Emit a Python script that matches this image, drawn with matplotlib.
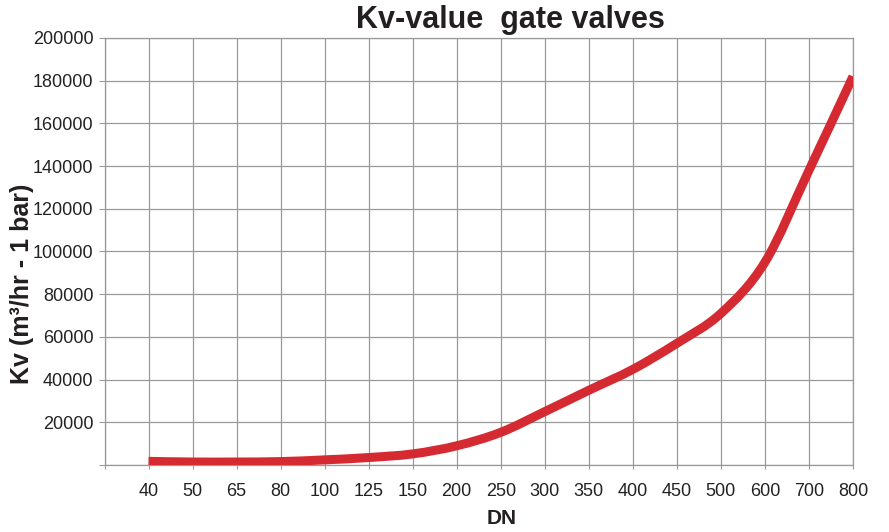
import matplotlib
matplotlib.use("Agg")
import matplotlib.pyplot as plt
from matplotlib.path import Path
from matplotlib.patches import PathPatch

# DN sizes and Kv values
dn = ["40", "50", "65", "80", "100", "125", "150", "200", "250",
      "300", "350", "400", "450", "500", "600", "700", "800"]
kv = [1700, 1400, 1400, 1600, 2400, 3500, 5200, 9000, 15300,
      25000, 35000, 44800, 57000, 71000, 95000, 138000, 182000]

yticks = list(range(0, 200001, 20000))
ylabels = [""] + [str(v) for v in yticks[1:]]

plt.rcParams['font.family'] = ['Liberation Sans', 'DejaVu Sans']

fig = plt.figure(figsize=(8.89, 5.32), dpi=100)
ax = fig.add_axes([104.5 / 889, 1 - 465 / 532, (853 - 104.5) / 889, (465 - 38) / 532])

# smoothed line through the points (catmull-rom as cubic beziers)
xpos = list(range(len(dn)))
pts = list(zip(xpos, kv))
verts = [pts[0]]
codes = [Path.MOVETO]
for i in range(len(pts) - 1):
    p0 = pts[i - 1] if i > 0 else pts[i]
    p1 = pts[i]
    p2 = pts[i + 1]
    p3 = pts[i + 2] if i + 2 < len(pts) else pts[i + 1]
    c1 = (p1[0] + (p2[0] - p0[0]) / 6, p1[1] + (p2[1] - p0[1]) / 6)
    c2 = (p2[0] - (p3[0] - p1[0]) / 6, p2[1] - (p3[1] - p1[1]) / 6)
    verts += [c1, c2, p2]
    codes += [Path.CURVE4] * 3
ax.add_patch(PathPatch(Path(verts, codes), fill=False, edgecolor="#d52a31",
                       lw=6.5, capstyle="butt", joinstyle="round", zorder=3))

ax.set_xlim(-1, len(dn) - 1)
ax.set_ylim(0, 200000)
ax.set_xticks([-1] + xpos)
ax.set_xticklabels([""] + dn, fontsize=13, color="#222222")
ax.set_yticks(yticks)
ax.set_yticklabels(ylabels, fontsize=13, color="#222222")

ax.grid(True, color="#999999", lw=0.9)
ax.set_axisbelow(True)
for s in ax.spines.values():
    s.set_color("#999999")
    s.set_linewidth(0.9)
ax.tick_params(axis="x", length=3, color="#999999", pad=10)
ax.tick_params(axis="y", length=4, color="#999999", pad=4)

fig.text(510 / 889, 1 - 20 / 532, "Kv-value  gate valves", ha="center", va="center",
         fontsize=22, fontweight="bold", color="#231f20")
fig.text(502 / 889, 1 - 518 / 532, "DN", ha="center", va="center",
         fontsize=15, fontweight="bold", color="#231f20")
fig.text(22 / 889, 1 - 284 / 532, "Kv (m³/hr - 1 bar)", ha="center", va="center",
         rotation=90, fontsize=18, fontweight="bold", color="#231f20")

fig.savefig("out.png", dpi=100)
